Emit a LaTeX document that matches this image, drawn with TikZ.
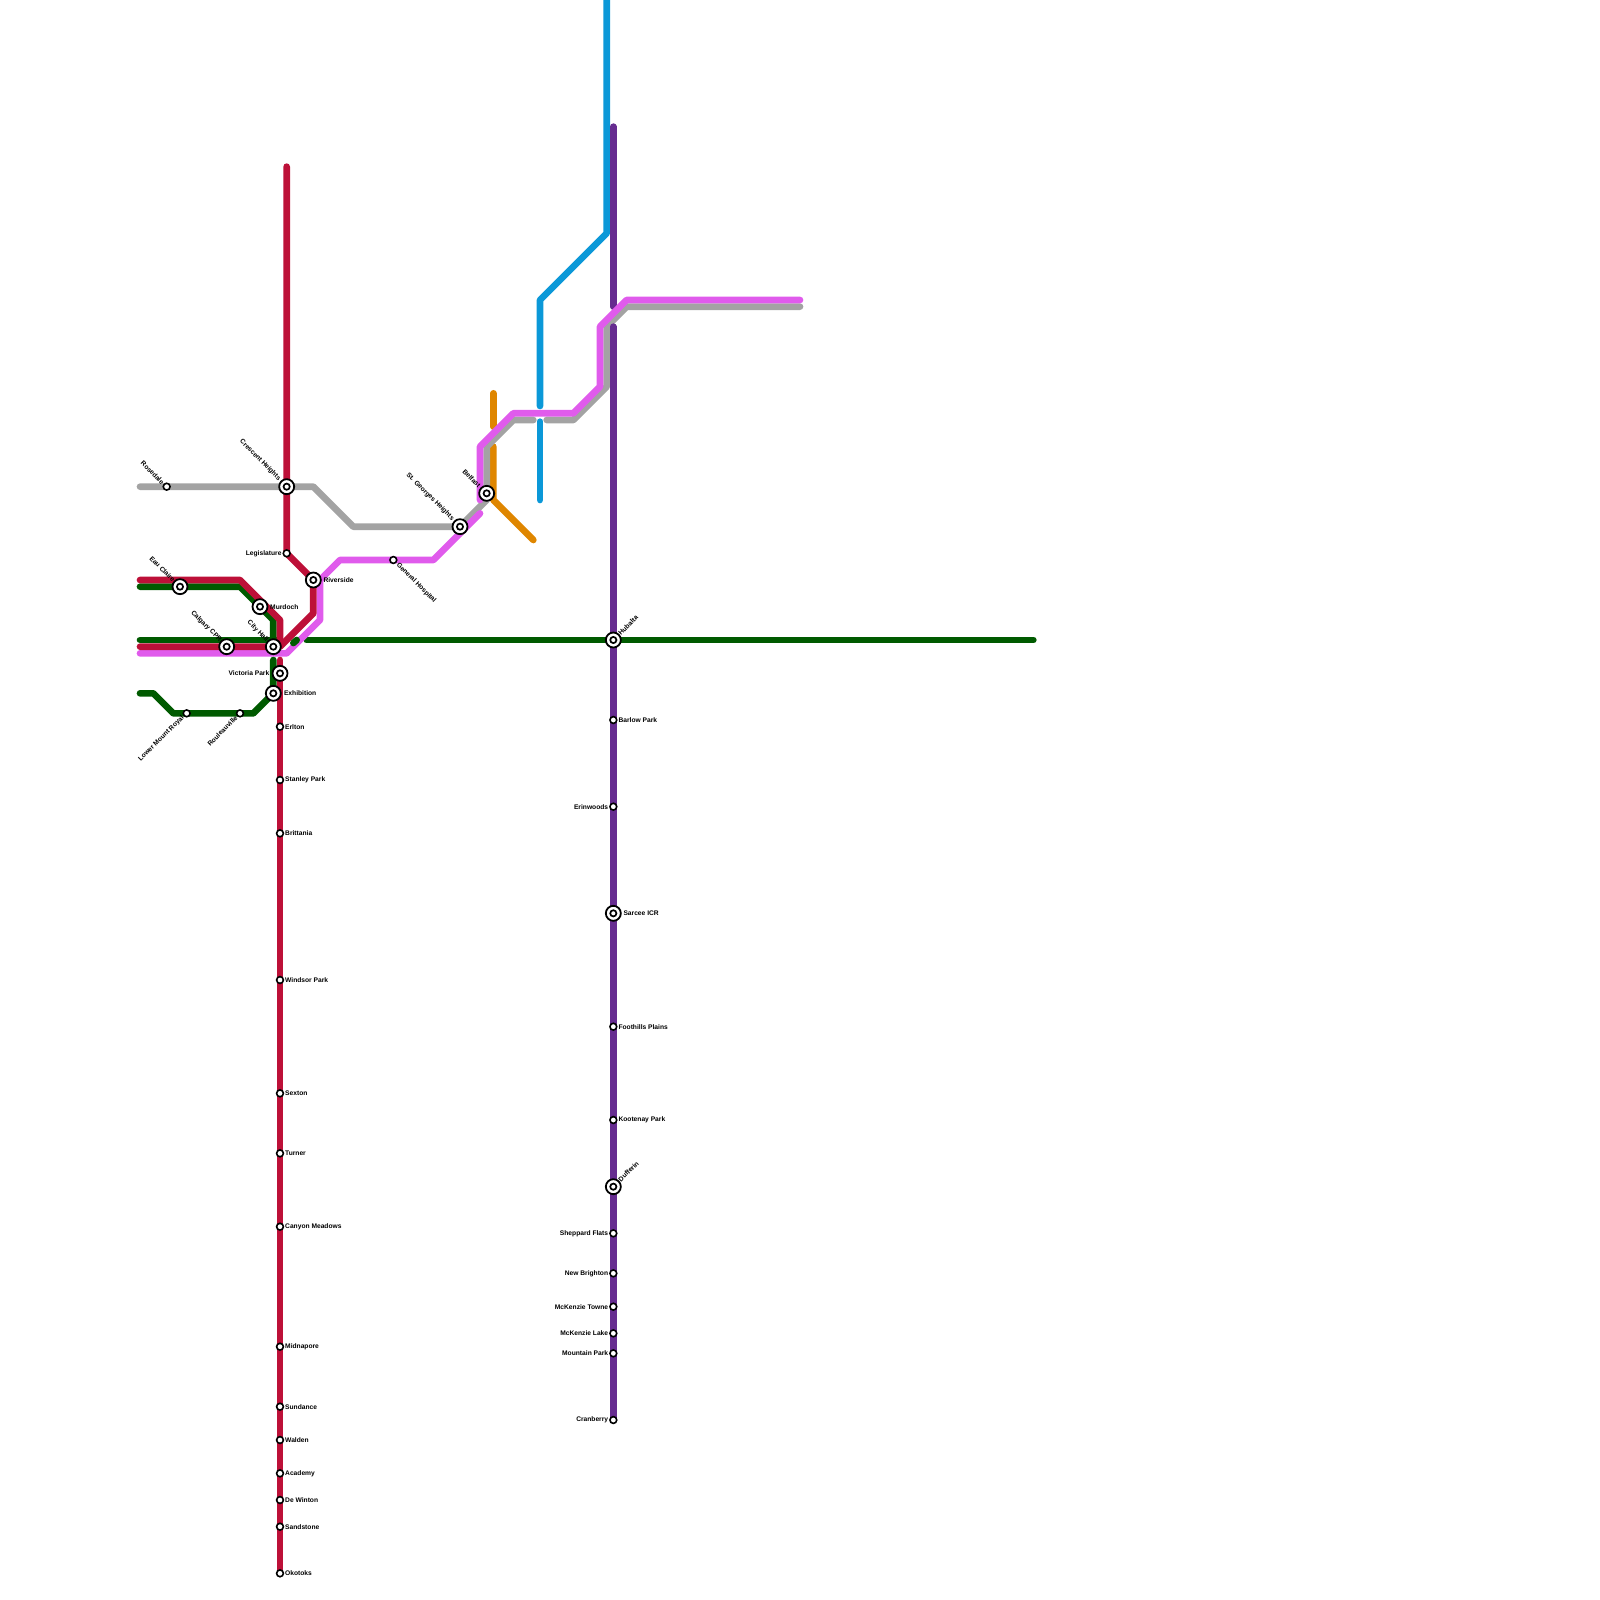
\documentclass[tikz,border=0pt]{standalone}
\usepackage{fontspec}
\setmainfont{Liberation Sans}
\definecolor{cred}{HTML}{BD1038}
\definecolor{cgreen}{HTML}{005A00}
\definecolor{cpink}{HTML}{E05BEC}
\definecolor{cgrey}{HTML}{A3A3A3}
\definecolor{cblue}{HTML}{0B98D8}
\definecolor{corange}{HTML}{DF8600}
\definecolor{cpurple}{HTML}{662C90}
\tikzset{
  metro/.style={line width=6.67pt,line cap=round,line join=round},
  smallst/.style={circle,draw=black,fill=white,line width=1.6pt,minimum size=6.8pt,inner sep=0pt},
  bigst/.style={circle,draw=black,fill=white,line width=1.8pt,minimum size=15pt,inner sep=0pt,
    path picture={\draw[black,line width=1.7pt,fill=white] (path picture bounding box.center) circle[radius=3.1pt];}},
  lbl/.style={font=\bfseries\fontsize{6.67}{8}\selectfont,text=black,inner sep=0pt}
}
\newcommand{\stn}[5]{\node[#4] (#1) at (#2,#3) {};}
\newcommand{\labE}[3]{\node[lbl,anchor=west] (#1-l) at ([xshift=#2pt]#1.center) {#3};}
\newcommand{\labW}[3]{\node[lbl,anchor=east] (#1-l) at ([xshift=-#2pt]#1.center) {#3};}
\newcommand{\labNW}[3]{\node[lbl,anchor=east,rotate=-45] (#1-l) at ([xshift=-#2pt,yshift=#2pt]#1.center) {#3};}
\newcommand{\labSW}[3]{\node[lbl,anchor=east,rotate=45] (#1-l) at ([xshift=-#2pt,yshift=-#2pt]#1.center) {#3};}
\newcommand{\labSE}[3]{\node[lbl,anchor=west,rotate=-45] (#1-l) at ([xshift=#2pt,yshift=-#2pt]#1.center) {#3};}
\newcommand{\labNE}[3]{\node[lbl,anchor=west,rotate=45] (#1-l) at ([xshift=#2pt,yshift=#2pt]#1.center) {#3};}
\begin{document}
\begin{tikzpicture}[x=1pt,y=-1pt]
\useasboundingbox (0,0) rectangle (1600,1600);
% station positions
\coordinate (rosedale) at (166.67,486.67);
\coordinate (crescent) at (286.67,486.67);
\coordinate (legis) at (286.67,553.33);
\coordinate (river) at (313.33,580);
\coordinate (genhosp) at (393.33,560);
\coordinate (stgeorge) at (460,526.67);
\coordinate (belfast) at (486.67,493.33);
\coordinate (eau) at (180,586.67);
\coordinate (murdoch) at (260,606.67);
\coordinate (cpr) at (226.67,646.67);
\coordinate (cityhall) at (273.33,646.67);
\coordinate (victoria) at (280,673.33);
\coordinate (exhib) at (273.33,693.33);
\coordinate (lmr) at (186.67,713.33);
\coordinate (roul) at (240,713.33);
\coordinate (okotoks) at (280,1573.33);
\coordinate (cranberry) at (613.33,1420);
% green
\draw[metro,cgreen] (140,586.67) -- (240,586.67) -- (273.33,620) -- (cityhall);
\draw[metro,cgreen] (140,640) -- (280,640);
\draw[metro,cgreen] (306.67,640) -- (1033.33,640);
\draw[metro,cgreen] (140,693.33) -- (153.33,693.33) -- (173.33,713.33) -- (253.33,713.33) -- (exhib) -- (273.33,660);
% blue
\draw[metro,cblue] (606.67,-5) -- (606.67,233.33) -- (540,300) -- (540,406);
\draw[metro,cblue] (540,421.67) -- (540,500);
% orange
\draw[metro,corange] (493.33,393.33) -- (493.33,426.67);
\draw[metro,corange] (493.33,446.67) -- (493.33,500) -- (533.33,540);
% grey
\draw[metro,cgrey] (140,486.67) -- (313.33,486.67) -- (353.33,526.67) -- (stgeorge) -- (486.67,500) -- (486.67,446.67) -- (513.33,420) -- (533.33,420);
\draw[metro,cgrey] (546.67,420) -- (573.33,420) -- (606.67,386.67) -- (606.67,326.67) -- (626.67,306.67) -- (800,306.67);
% purple
\draw[metro,cpurple] (613.33,126.67) -- (613.33,306.67);
\draw[metro,cpurple] (613.33,326.67) -- (cranberry);
% pink
\draw[metro,cpink] (140,653.33) -- (286.67,653.33) -- (320,620) -- (320,580) -- (340,560) -- (433.33,560) -- (480,513.33);
\draw[metro,cpink] (480,500) -- (480,446.67) -- (513.33,413.33) -- (573.33,413.33) -- (600,386.67) -- (600,326.67) -- (626.67,300) -- (800,300);
% short green piece beside City Hall
\draw[metro,cgreen] (293.33,643) -- (296.67,640);
% red
\draw[metro,cred] (286.67,166.67) -- (legis) -- (river) -- (313.33,613.33) -- (280,646.67) -- (140,646.67);
\draw[metro,cred] (140,580) -- (240,580) -- (280,620) -- (280,640);
\draw[metro,cred] (280,660) -- (okotoks);
% stations
\stn{rosedale}{166.67}{486.67}{smallst}{}\labNW{rosedale}{3.5}{Rosedale}
\stn{crescent}{286.67}{486.67}{bigst}{}\labNW{crescent}{7}{Crescent Heights}
\stn{legis}{286.67}{553.33}{smallst}{}\labW{legis}{5}{Legislature}
\stn{river}{313.33}{580}{bigst}{}\labE{river}{10}{Riverside}
\stn{genhosp}{393.33}{560}{smallst}{}\labSE{genhosp}{4}{General Hospital}
\stn{stgeorge}{460}{526.67}{bigst}{}\labNW{stgeorge}{7}{St. Georges Heights}
\stn{belfast}{486.67}{493.33}{bigst}{}\labNW{belfast}{7}{Belfast}
\stn{eau}{180}{586.67}{bigst}{}\labNW{eau}{6}{Eau Claire}
\stn{murdoch}{260}{606.67}{bigst}{}\labE{murdoch}{10}{Murdoch}
\stn{cpr}{226.67}{646.67}{bigst}{}\labNW{cpr}{6}{Calgary CPR}
\stn{cityhall}{273.33}{646.67}{bigst}{}\labNW{cityhall}{6}{City Hall}
\stn{victoria}{280}{673.33}{bigst}{}\labW{victoria}{10.5}{Victoria Park}
\stn{exhib}{273.33}{693.33}{bigst}{}\labE{exhib}{10.5}{Exhibition}
\stn{lmr}{186.67}{713.33}{smallst}{}\labSW{lmr}{3.5}{Lower Mount Royal}
\stn{roul}{240}{713.33}{smallst}{}\labSW{roul}{3.5}{Rouleauville}
\stn{erlton}{280}{726.67}{smallst}{}\labE{erlton}{5}{Erlton}
\stn{stanley}{280}{780}{smallst}{}\labE{stanley}{5}{Stanley Park}
\stn{brit}{280}{833.33}{smallst}{}\labE{brit}{5}{Brittania}
\stn{windsor}{280}{980}{smallst}{}\labE{windsor}{5}{Windsor Park}
\stn{sexton}{280}{1093.33}{smallst}{}\labE{sexton}{5}{Sexton}
\stn{turner}{280}{1153.33}{smallst}{}\labE{turner}{5}{Turner}
\stn{canyon}{280}{1226.67}{smallst}{}\labE{canyon}{5}{Canyon Meadows}
\stn{midna}{280}{1346.67}{smallst}{}\labE{midna}{5}{Midnapore}
\stn{sundance}{280}{1406.67}{smallst}{}\labE{sundance}{5}{Sundance}
\stn{walden}{280}{1440}{smallst}{}\labE{walden}{5}{Walden}
\stn{academy}{280}{1473.33}{smallst}{}\labE{academy}{5}{Academy}
\stn{dewinton}{280}{1500}{smallst}{}\labE{dewinton}{5}{De Winton}
\stn{sandstone}{280}{1526.67}{smallst}{}\labE{sandstone}{5}{Sandstone}
\stn{okotoks}{280}{1573.33}{smallst}{}\labE{okotoks}{5}{Okotoks}
\stn{hubalta}{613.33}{640}{bigst}{}\labNE{hubalta}{6}{Hubalta}
\stn{barlow}{613.33}{720}{smallst}{}\labE{barlow}{5}{Barlow Park}
\stn{erin}{613.33}{806.67}{smallst}{}\labW{erin}{5}{Erinwoods}
\stn{sarcee}{613.33}{913.33}{bigst}{}\labE{sarcee}{10}{Sarcee ICR}
\stn{foothills}{613.33}{1026.67}{smallst}{}\labE{foothills}{5}{Foothills Plains}
\stn{kootenay}{613.33}{1120}{smallst}{}\labE{kootenay}{5}{Kootenay Park}
\stn{dufferin}{613.33}{1186.67}{bigst}{}\labNE{dufferin}{6}{Dufferin}
\stn{sheppard}{613.33}{1233.33}{smallst}{}\labW{sheppard}{5}{Sheppard Flats}
\stn{newb}{613.33}{1273.33}{smallst}{}\labW{newb}{5}{New Brighton}
\stn{mckt}{613.33}{1306.67}{smallst}{}\labW{mckt}{5}{McKenzie Towne}
\stn{mckl}{613.33}{1333.33}{smallst}{}\labW{mckl}{5}{McKenzie Lake}
\stn{mountain}{613.33}{1353.33}{smallst}{}\labW{mountain}{5}{Mountain Park}
\stn{cranberry}{613.33}{1420}{smallst}{}\labW{cranberry}{5}{Cranberry}
\end{tikzpicture}
\end{document}
